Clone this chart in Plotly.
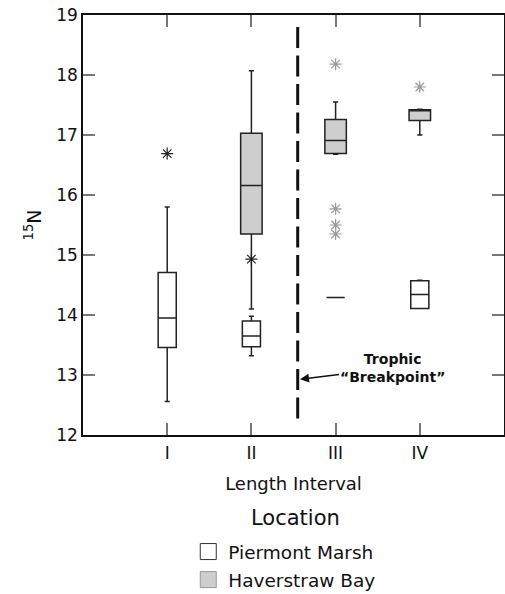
import plotly.graph_objects as go

# ---- data ----
categories = ["I", "II", "III", "IV"]
cat_pos = [1, 2, 3, 4]

# Piermont Marsh (white boxes)
pm_x = [1, 2, 3, 4]
pm_q1 = [13.46, 13.47, 14.29, 14.11]
pm_median = [13.95, 13.65, 14.29, 14.34]
pm_q3 = [14.71, 13.90, 14.29, 14.57]
pm_lower = [12.56, 13.32, 14.29, 14.11]
pm_upper = [15.80, 13.98, 14.29, 14.58]
pm_out_x = [1, 2]
pm_out_y = [16.69, 14.93]

# Haverstraw Bay (gray boxes)
hb_x = [2, 3, 4]
hb_q1 = [15.35, 16.69, 17.24]
hb_median = [16.16, 16.91, 17.42]
hb_q3 = [17.03, 17.26, 17.42]
hb_lower = [14.10, 16.68, 17.00]
hb_upper = [18.07, 17.55, 17.43]
hb_out_x = [3, 3, 3, 3, 4]
hb_out_y = [18.18, 15.77, 15.50, 15.35, 17.80]

# trophic breakpoint
breakpoint_x = 2.55
breakpoint_span = [18.80, 12.25]
arrow_target = (2.577, 12.93)

FONT = "DejaVu Sans"
GRAY_FILL = "#cdcecd"

fig = go.Figure()

fig.add_trace(go.Box(
    x=hb_x, q1=hb_q1, median=hb_median, q3=hb_q3,
    lowerfence=hb_lower, upperfence=hb_upper,
    boxpoints=False, width=0.255, whiskerwidth=0.24,
    fillcolor=GRAY_FILL, line=dict(color="#222222", width=1.5),
    showlegend=False, hoverinfo="skip",
))
fig.add_trace(go.Box(
    x=pm_x, q1=pm_q1, median=pm_median, q3=pm_q3,
    lowerfence=pm_lower, upperfence=pm_upper,
    boxpoints=False, width=0.215, whiskerwidth=0.28,
    fillcolor="white", line=dict(color="#222222", width=1.5),
    showlegend=False, hoverinfo="skip",
))

fig.add_trace(go.Scatter(
    x=hb_out_x, y=hb_out_y, mode="markers",
    marker=dict(symbol="asterisk-open", size=10, color="#9a9a9a",
                line=dict(color="#9a9a9a", width=1.2)),
    showlegend=False, hoverinfo="skip",
))
fig.add_trace(go.Scatter(
    x=pm_out_x, y=pm_out_y, mode="markers",
    marker=dict(symbol="asterisk-open", size=10, color="#222222",
                line=dict(color="#222222", width=1.2)),
    showlegend=False, hoverinfo="skip",
))

# dashed breakpoint line
fig.add_trace(go.Scatter(
    x=[breakpoint_x, breakpoint_x], y=breakpoint_span, mode="lines",
    line=dict(color="#111111", width=3, dash="21px,7.5px"),
    showlegend=False, hoverinfo="skip",
))

# legend entries
fig.add_trace(go.Scatter(
    x=[None], y=[None], mode="markers", name="Piermont Marsh",
    legendgroup="pm",
    marker=dict(symbol="square", size=16, color="white", line=dict(color="#333333", width=1)),
))
fig.add_trace(go.Scatter(
    x=[None], y=[None], mode="markers", name="Haverstraw Bay",
    legendgroup="hb",
    marker=dict(symbol="square", size=16, color=GRAY_FILL, line=dict(color="#999999", width=1)),
))

fig.add_annotation(
    x=arrow_target[0], y=arrow_target[1], xref="x", yref="y",
    text="<b>Trophic<br>\u201cBreakpoint\u201d</b>",
    showarrow=True, arrowhead=2, arrowsize=1.2, arrowwidth=1.5, arrowcolor="#111111",
    ax=93, ay=-11, axref="pixel", ayref="pixel",
    font=dict(family=FONT, size=14, color="#111111"),
)

fig.add_annotation(
    x=0.504, y=-0.1976, xref="paper", yref="paper",
    text="Location", showarrow=False,
    font=dict(family=FONT, size=21, color="#111111"),
    xanchor="center", yanchor="middle",
)

axis_common = dict(
    showline=True, linecolor="#111111", linewidth=1.5, mirror="ticks",
    ticks="inside", ticklen=12, tickcolor="#777777", tickwidth=1.5,
    showgrid=False, zeroline=False, automargin=False,
    tickfont=dict(family=FONT, size=17, color="#111111"),
)

fig.update_layout(
    width=505, height=594,
    margin=dict(l=83, r=1, t=15, b=159, autoexpand=False),
    plot_bgcolor="white", paper_bgcolor="white",
    boxmode="overlay",
    xaxis=dict(
        range=[0, 5], tickvals=cat_pos, ticktext=categories,
        ticklabelstandoff=2,
        title=dict(text="Length Interval", font=dict(family=FONT, size=18, color="#111111"), standoff=15),
        **axis_common,
    ),
    yaxis=dict(
        range=[12, 19], tickvals=[12, 13, 14, 15, 16, 17, 18, 19],
        title=dict(text="<sup>15</sup>N", font=dict(family=FONT, size=19, color="#111111"), standoff=10),
        **axis_common,
    ),
    legend=dict(
        x=0.25, y=-0.2334, xanchor="left", yanchor="top",
        font=dict(family=FONT, size=18.5, color="#111111"),
        tracegroupgap=1, bgcolor="rgba(0,0,0,0)",
    ),
    font=dict(family=FONT),
)

fig.write_html("out.html")
